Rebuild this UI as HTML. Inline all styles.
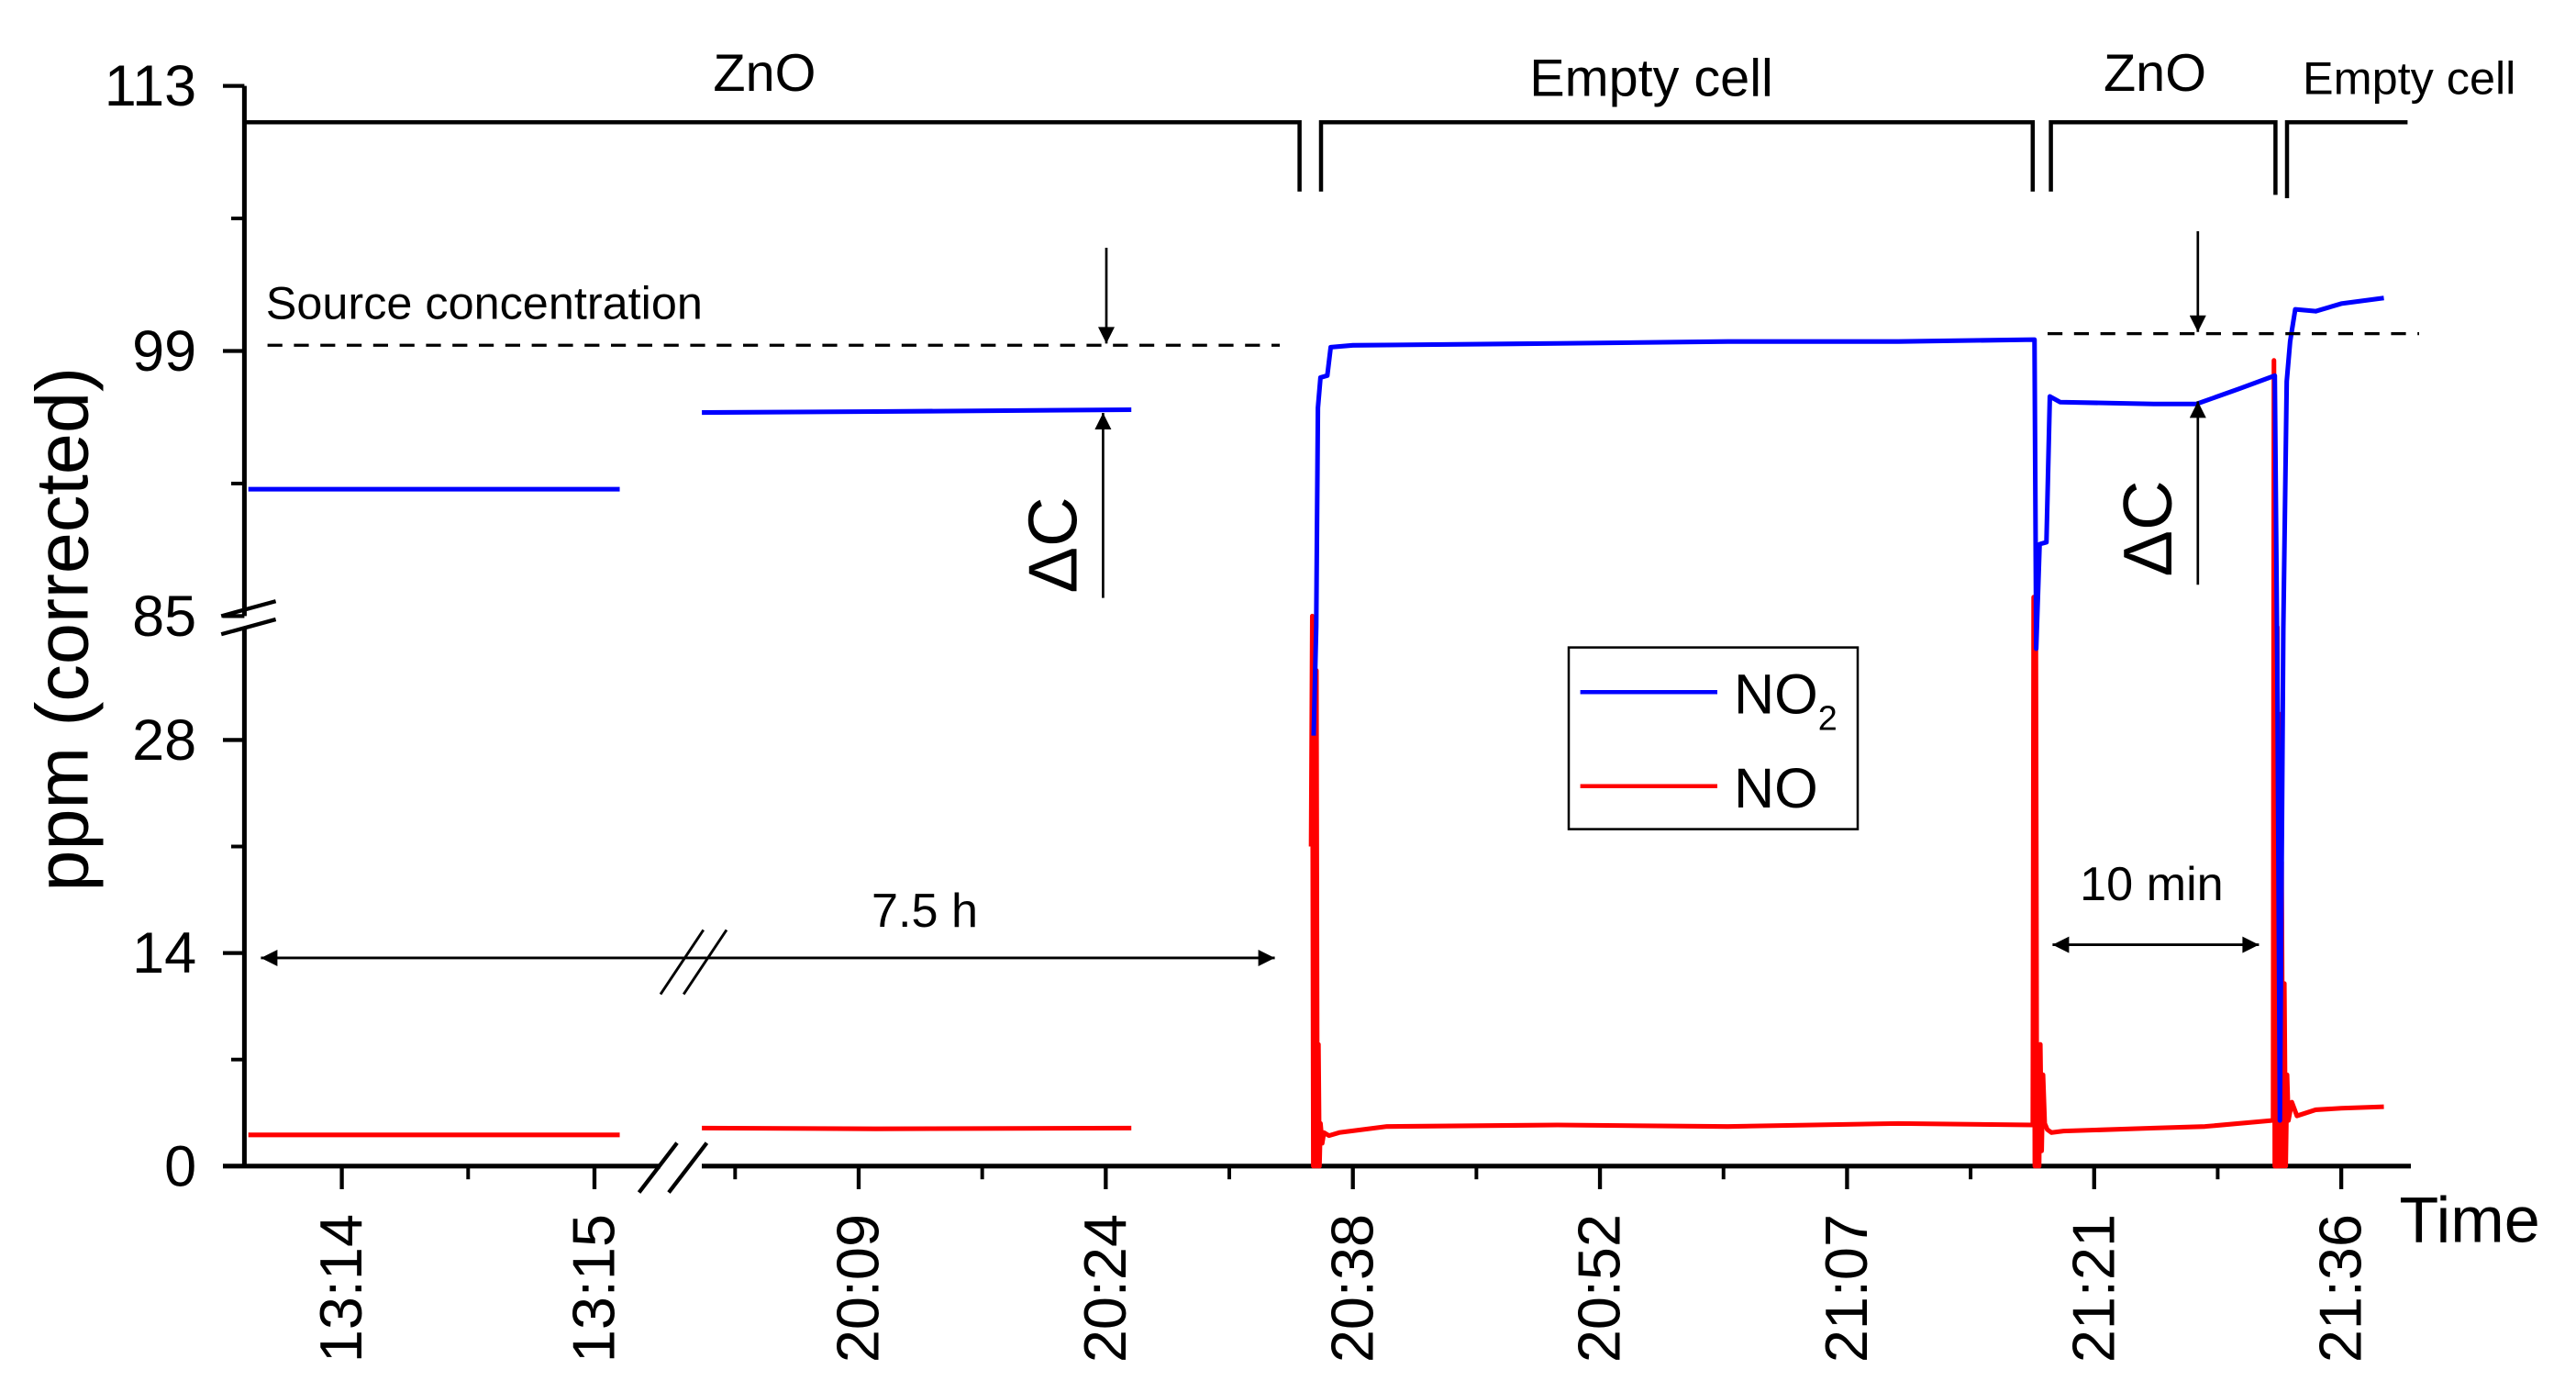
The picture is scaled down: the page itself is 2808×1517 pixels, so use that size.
<!DOCTYPE html>
<html><head><meta charset="utf-8"><title>NO2 / NO concentration</title>
<style>
html,body{margin:0;padding:0;background:#fff;}
svg{display:block;}
text{font-family:"Liberation Sans",Arial,sans-serif;fill:#000;}
</style></head>
<body>
<svg id="chart" width="2808" height="1517" viewBox="0 0 1560 842.78" preserveAspectRatio="none" xmlns="http://www.w3.org/2000/svg">
<defs>
<marker id="ahL" viewBox="0 0 10 10" refX="10" refY="5" markerWidth="22" markerHeight="10" markerUnits="userSpaceOnUse" orient="auto-start-reverse"><path d="M0,0 L10,5 L0,10 z" fill="#000"/></marker>
<marker id="ahV" viewBox="0 0 10 10" refX="10" refY="5" markerWidth="20" markerHeight="10" markerUnits="userSpaceOnUse" orient="auto-start-reverse"><path d="M0,0 L10,5 L0,10 z" fill="#000"/></marker>
</defs>
<g id="axes"></g>
<g id="series"></g>
<g id="annot">
  <path d="M148,74 H787 V116" fill="none" stroke="#000" stroke-width="2.5"/>
  <path d="M800,116 V74 H1231 V116" fill="none" stroke="#000" stroke-width="2.5"/>
  <path d="M1242,116 V74 H1378 V118" fill="none" stroke="#000" stroke-width="2.5"/>
  <path d="M1385,120 V74 H1458" fill="none" stroke="#000" stroke-width="2.5"/>
  <text x="463" y="55" font-size="32" text-anchor="middle">ZnO</text>
  <text x="1000" y="58" font-size="32" text-anchor="middle">Empty cell</text>
  <text x="1305" y="55" font-size="32" text-anchor="middle">ZnO</text>
  <text x="1459" y="57" font-size="28" text-anchor="middle">Empty cell</text>
  <text x="161" y="193" font-size="28">Source concentration</text>
  <line x1="162" y1="209" x2="775" y2="209" stroke="#000" stroke-width="1.8" stroke-dasharray="9,7"/>
  <line x1="1240" y1="202" x2="1465" y2="202" stroke="#000" stroke-width="1.8" stroke-dasharray="9,7"/>
  <line x1="670" y1="150" x2="670" y2="208" stroke="#000" stroke-width="1.5" marker-end="url(#ahV)"/>
  <line x1="668" y1="362" x2="668" y2="250" stroke="#000" stroke-width="1.5" marker-end="url(#ahV)"/>
  <text transform="translate(652,330) rotate(-90)" font-size="42" text-anchor="middle">ΔC</text>
  <line x1="1331" y1="140" x2="1331" y2="201" stroke="#000" stroke-width="1.5" marker-end="url(#ahV)"/>
  <line x1="1331" y1="354" x2="1331" y2="243" stroke="#000" stroke-width="1.5" marker-end="url(#ahV)"/>
  <text transform="translate(1315,320) rotate(-90)" font-size="42" text-anchor="middle">ΔC</text>
  <line x1="158" y1="580" x2="772" y2="580" stroke="#000" stroke-width="1.6" marker-start="url(#ahL)" marker-end="url(#ahL)"/>
  <line x1="400" y1="602" x2="426" y2="563" stroke="#000" stroke-width="1.6"/>
  <line x1="414" y1="602" x2="440" y2="563" stroke="#000" stroke-width="1.6"/>
  <text x="560" y="561" font-size="29" text-anchor="middle">7.5 h</text>
  <line x1="1243" y1="572" x2="1368" y2="572" stroke="#000" stroke-width="1.6" marker-start="url(#ahL)" marker-end="url(#ahL)"/>
  <text x="1303" y="545" font-size="29" text-anchor="middle">10 min</text>
  <g>
    <rect x="950" y="392" width="175" height="110" fill="#fff" stroke="#000" stroke-width="1.4"/>
    <line x1="957" y1="419" x2="1040" y2="419" stroke="#0000ff" stroke-width="2.5"/>
    <text x="1050" y="432" font-size="34">NO<tspan font-size="21" dy="10">2</tspan></text>
    <line x1="957" y1="476" x2="1040" y2="476" stroke="#ff0000" stroke-width="2.5"/>
    <text x="1050" y="489" font-size="34">NO</text>
  </g>
</g>
</svg>
<script>
const leftTimes = [-0.37, 0.3, 1.1];
const leftNO2 = [91.7, 91.7, 91.7];
const leftNO = [2.05, 2.05, 2.05];
const rightTimes = [-0.2, 10, 25.0, null,
  35.7, 35.85, 35.95, 36.1, 36.5, 36.7, 38, 50, 60, 70, 77.9, 78.0, 78.1, 78.3, 78.7, 78.9, 79.5, 85, 87.5, 90, 92.1, 92.25, 92.4, 92.6, 92.8, 93.0, 93.3, 94.5, 96, 98.5];
const rightNO2 = [95.75, 95.8, 95.9, null,
  30, 80, 96, 97.6, 97.7, 99.2, 99.3, 99.4, 99.5, 99.5, 99.6, 99.6, 70, 88.8, 88.9, 96.6, 96.3, 96.2, 96.2, 97.0, 97.7, 60, 3, 79, 97.4, 99.5, 101.2, 101.1, 101.5, 101.8];
const noTimes = [-0.2, 10, 25.0, null,
  35.55, 35.62, 35.68, 35.74, 35.8, 35.86, 35.92, 35.98, 36.04, 36.1, 36.2, 36.3, 36.6, 37.2, 40, 50, 60, 70, 77.9, 77.95, 78.02, 78.08, 78.14, 78.2, 78.27, 78.34, 78.42, 78.5, 78.6, 78.75, 79.0, 79.7, 85, 88, 92.0, 92.05, 92.1, 92.15, 92.2, 92.25, 92.3, 92.35, 92.42, 92.5, 92.58, 92.66, 92.74, 92.82, 92.9, 93.1, 93.4, 94.5, 96, 98.5];
const noValues = [2.5, 2.45, 2.5, null,
  21, 85, 0, 80, 0, 60, 0, 8, 0, 2.8, 1.5, 2.2, 2.0, 2.2, 2.6, 2.7, 2.6, 2.8, 2.7, 86, 0, 70, 0, 8, 0, 8, 1, 6, 2.8, 2.4, 2.2, 2.3, 2.5, 2.6, 3.0, 98.5, 0, 90, 0, 80, 0, 40, 0, 20, 0, 12, 0, 6, 3, 4.2, 3.3, 3.7, 3.8, 3.9, 3.7];
const yTickValues = [0, 14, 28, 85, 99, 113];
const yTickLabels = ["0", "14", "28", "85", "99", "113"];
const yMinorValues = [7, 21, 92, 106];
const xLeftTickValues = [0, 1];
const xLeftTickLabels = ["13:14", "13:15"];
const xLeftMinorValues = [0.5];
const xRightTickValues = [9, 23.5, 38, 52.5, 67, 81.5, 96];
const xRightTickLabels = ["20:09", "20:24", "20:38", "20:52", "21:07", "21:21", "21:36"];
const xRightMinorValues = [1.75, 16.25, 30.75, 45.25, 59.75, 74.25, 88.75];

function xLeft(t){ return 207 + t*153; }
function xRight(t){ return 520 + (t-9)*10.32; }
function yScale(v){
  if (v >= 85) return 373 - (v-85)*11.464;
  if (v <= 28) return 706 - v*9.214;
  return 448 - (v-28)/57*75;
}
const NS = "http://www.w3.org/2000/svg";
const axes = document.getElementById('axes');
const series = document.getElementById('series');
function mk(tag, attrs, parent){
  const el = document.createElementNS(NS, tag);
  for (const k in attrs) el.setAttribute(k, attrs[k]);
  parent.appendChild(el);
  return el;
}
let e;
e = mk('path', {d:'M148,52 V373 M148,380 V706', fill:'none', stroke:'#000', 'stroke-width':2.8}, axes);


e = mk('path', {d:'M135,706 H400 M425,706 H1460', fill:'none', stroke:'#000', 'stroke-width':2.8}, axes);


e = mk('path', {d:'M134,373 L167,364 M134,384 L167,375', fill:'none', stroke:'#000', 'stroke-width':2.4}, axes);


e = mk('path', {d:'M387,722 L410,692 M405,722 L428,692', fill:'none', stroke:'#000', 'stroke-width':2.4}, axes);


yTickValues.forEach((v,i)=>{
  const y = yScale(v);
  const t = mk('line', {x1:135, x2:148, y1:y, y2:y, stroke:'#000', 'stroke-width':2.4}, axes);
  
  
  const l = mk('text', {x:119, y:y+12, 'font-size':35, 'text-anchor':'end'}, axes);
  l.textContent = yTickLabels[i];
  
  
});
yMinorValues.forEach(v=>{
  const y = yScale(v);
  const t = mk('line', {x1:140, x2:148, y1:y, y2:y, stroke:'#000', 'stroke-width':2.2}, axes);
  
  
});
function xTick(x, label){
  const t = mk('line', {x1:x, x2:x, y1:706, y2:720, stroke:'#000', 'stroke-width':2.4}, axes);
  
  
  const l = mk('text', {transform:'translate(' + (x+12) + ',735) rotate(-90)', 'font-size':36, 'text-anchor':'end'}, axes);
  l.textContent = label;
  
  
}
function xMinor(x){
  const t = mk('line', {x1:x, x2:x, y1:706, y2:714, stroke:'#000', 'stroke-width':2.2}, axes);
  
  
}
xLeftTickValues.forEach((v,i)=>xTick(xLeft(v), xLeftTickLabels[i]));
xLeftMinorValues.forEach(v=>xMinor(xLeft(v)));
xRightTickValues.forEach((v,i)=>xTick(xRight(v), xRightTickLabels[i]));
xRightMinorValues.forEach(v=>xMinor(xRight(v)));
e = mk('text', {transform:'translate(53,381) rotate(-90)', 'font-size':45, 'text-anchor':'middle'}, axes);
e.textContent = 'ppm (corrected)';


e = mk('text', {x:1453, y:752, 'font-size':39}, axes);
e.textContent = 'Time';



function pathFrom(ts, vs, xf){
  let d = '', pen = false;
  for (let i=0;i<ts.length;i++){
    if (ts[i]===null || vs[i]===null){ pen=false; continue; }
    d += (pen?'L':'M') + xf(ts[i]).toFixed(2) + ',' + yScale(vs[i]).toFixed(2) + ' ';
    pen = true;
  }
  return d;
}
e = mk('path', {d:pathFrom(leftTimes, leftNO, xLeft), fill:'none', stroke:'#ff0000', 'stroke-width':2.8, 'stroke-linejoin':'round'}, series);


e = mk('path', {d:pathFrom(noTimes, noValues, xRight), fill:'none', stroke:'#ff0000', 'stroke-width':2.8, 'stroke-linejoin':'round'}, series);


e = mk('path', {d:pathFrom(leftTimes, leftNO2, xLeft), fill:'none', stroke:'#0000ff', 'stroke-width':2.8, 'stroke-linejoin':'round'}, series);


e = mk('path', {d:pathFrom(rightTimes, rightNO2, xRight), fill:'none', stroke:'#0000ff', 'stroke-width':2.8, 'stroke-linejoin':'round'}, series);


</script>
</body></html>
